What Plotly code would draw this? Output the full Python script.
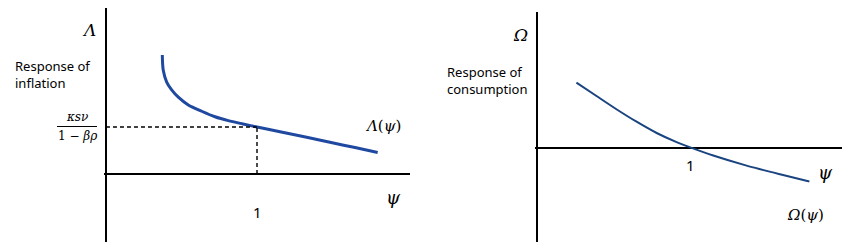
import plotly.graph_objects as go

W, H = 860, 249

# Left panel: response of inflation Λ(ψ)
psi_L = [0.373, 0.379, 0.402, 0.435, 0.479, 0.545, 0.634, 0.722, 0.810, 0.907, 1.0,
         1.152, 1.329, 1.483, 1.649, 1.799]
lam_L = [2.532, 2.213, 1.957, 1.79, 1.635, 1.47, 1.335, 1.218, 1.135, 1.064, 1.0,
         0.898, 0.78, 0.675, 0.562, 0.458]
psi_star = 1.0
lam_star = 1.0

# Right panel: response of consumption Ω(ψ)
psi_R = [0.255, 0.385, 0.514, 0.644, 0.774, 0.903, 1.0, 1.14, 1.356, 1.572, 1.762]
om_R = [1.36, 1.08, 0.805, 0.545, 0.31, 0.12, 0.0, -0.16, -0.37, -0.55, -0.70]

tick_label = "1"

fig = go.Figure()

fig.add_trace(go.Scatter(x=psi_L, y=lam_L, mode="lines",
                         line=dict(color="#1f48a0", width=3, shape="spline", smoothing=0.8),
                         xaxis="x", yaxis="y", hoverinfo="skip", showlegend=False))
fig.add_trace(go.Scatter(x=psi_R, y=om_R, mode="lines",
                         line=dict(color="#1a4480", width=2, shape="spline", smoothing=0.8),
                         xaxis="x2", yaxis="y2", hoverinfo="skip", showlegend=False))

def px(x):
    return x / W

def py(y):
    return 1 - y / H

ax_common = dict(showgrid=False, showticklabels=False, ticks="", zeroline=True,
                 zerolinecolor="black", zerolinewidth=1.5, fixedrange=True, showline=False)

fig.update_layout(
    width=W, height=H,
    margin=dict(l=0, r=0, t=0, b=0),
    paper_bgcolor="white", plot_bgcolor="white",
    xaxis=dict(domain=[px(104), px(410)], range=[-0.013, 2.013], **ax_common),
    yaxis=dict(domain=[py(242), py(8)], range=[-1.447, 3.532], **ax_common),
    xaxis2=dict(domain=[px(535), px(842)], range=[-0.013, 1.973], **ax_common),
    yaxis2=dict(domain=[py(242), py(12)], range=[-1.96, 2.83], anchor="x2", **ax_common),
)
fig.layout.xaxis2.anchor = "y2"

# dashed guide lines (from the data point at ψ=1)
fig.add_shape(type="line", xref="x", yref="y", x0=0, x1=psi_star, y0=lam_star, y1=lam_star,
              line=dict(color="black", width=1.4, dash="4px,3px"))
fig.add_shape(type="line", xref="x", yref="y", x0=psi_star, x1=psi_star, y0=0, y1=lam_star,
              line=dict(color="black", width=1.4, dash="4px,3px"))

serif = "DejaVu Serif"
sans = "Noto Sans"

def ann(text, x, y, size, family, xanchor="center", align="center", color="black"):
    fig.add_annotation(text=text, x=px(x), y=py(y), xref="paper", yref="paper", showarrow=False,
                       xanchor=xanchor, yanchor="middle", align=align,
                       font=dict(size=size, family=family, color=color))

# Left panel labels
ann("<i>Λ</i>", 89, 30, 17, serif)
ann("Response of<br>inflation", 13, 75, 13, sans, xanchor="left", align="left")
ann("<i>Λ</i>(<i>ψ</i>)", 383, 126, 15, serif)
ann("<i>ψ</i>", 393, 197, 18, serif)
ann(tick_label, 257, 212, 15, sans)
ann("<i>κsν</i>", 77, 117, 12, serif)
ann("1 − <i>βρ</i>", 77, 136, 12, serif)
fig.add_shape(type="line", xref="paper", yref="paper", x0=px(57), x1=px(97), y0=py(126.5), y1=py(126.5),
              line=dict(color="black", width=1))

# Right panel labels
ann("<i>Ω</i>", 520, 35, 17, serif)
ann("Response of<br>consumption", 445, 80, 13, sans, xanchor="left", align="left")
ann("<i>ψ</i>", 825, 172, 18, serif)
ann(tick_label, 690, 165, 15, sans)
ann("<i>Ω</i>(<i>ψ</i>)", 805, 215, 15, serif)

fig.write_html("out.html")
